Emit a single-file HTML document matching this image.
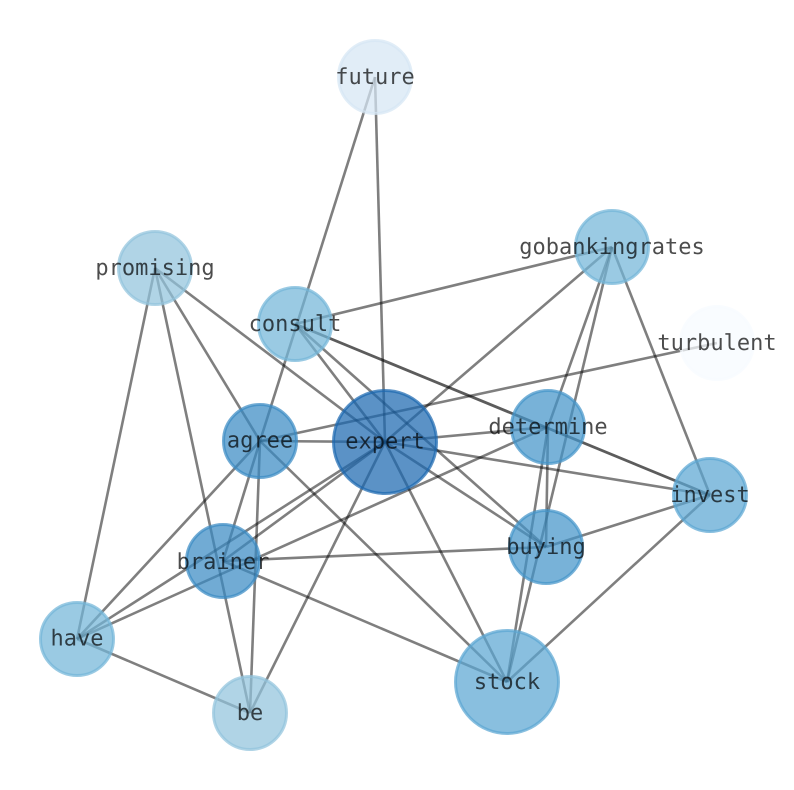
<!DOCTYPE html>
<html>
<head>
<meta charset="utf-8">
<style>
html,body{margin:0;padding:0;background:#fff;width:794px;height:790px;overflow:hidden}
svg{display:block}
text{font-family:"DejaVu Sans Mono","Liberation Mono",monospace;font-size:22px;text-anchor:middle;fill:#000;fill-opacity:.7;text-rendering:geometricPrecision}
line{stroke:#000;stroke-opacity:.5;stroke-width:2.6}
line.d{stroke-opacity:.64;stroke-width:2.8}
circle{stroke-width:3;fill-opacity:.72;stroke-opacity:.72}
</style>
</head>
<body>
<svg width="794" height="790" viewBox="0 0 794 790" xmlns="http://www.w3.org/2000/svg">
<g>
<line x1="375" y1="77" x2="260" y2="441"/>
<line x1="375" y1="77" x2="385" y2="442"/>
<line x1="155" y1="268" x2="77" y2="639"/>
<line x1="155" y1="268" x2="250" y2="713"/>
<line x1="155" y1="268" x2="260" y2="441"/>
<line x1="155" y1="268" x2="385" y2="442"/>
<line x1="612" y1="247" x2="295" y2="324"/>
<line x1="612" y1="247" x2="385" y2="442"/>
<line x1="612" y1="247" x2="548" y2="427"/>
<line x1="612" y1="247" x2="507" y2="682"/>
<line x1="612" y1="247" x2="710" y2="495"/>
<line x1="295" y1="324" x2="385" y2="442"/>
<line x1="295" y1="324" x2="546" y2="547"/>
<line class="d" x1="295" y1="324" x2="710" y2="495"/>
<line x1="717" y1="343" x2="260" y2="441"/>
<line x1="260" y1="441" x2="385" y2="442"/>
<line x1="260" y1="441" x2="223" y2="561"/>
<line x1="260" y1="441" x2="77" y2="639"/>
<line x1="260" y1="441" x2="250" y2="713"/>
<line x1="260" y1="441" x2="507" y2="682"/>
<line x1="385" y1="442" x2="548" y2="427"/>
<line x1="385" y1="442" x2="710" y2="495"/>
<line x1="385" y1="442" x2="546" y2="547"/>
<line x1="385" y1="442" x2="507" y2="682"/>
<line x1="385" y1="442" x2="250" y2="713"/>
<line x1="385" y1="442" x2="223" y2="561"/>
<line x1="385" y1="442" x2="77" y2="639"/>
<line x1="548" y1="427" x2="507" y2="682"/>
<line x1="548" y1="427" x2="77" y2="639"/>
<line x1="548" y1="427" x2="546" y2="547"/>
<line x1="710" y1="495" x2="546" y2="547"/>
<line x1="710" y1="495" x2="507" y2="682"/>
<line x1="223" y1="561" x2="546" y2="547"/>
<line x1="223" y1="561" x2="507" y2="682"/>
<line x1="77" y1="639" x2="250" y2="713"/>
</g>
<g>
<circle cx="375" cy="77" r="36.5" fill="#d6e6f4" stroke="#d6e6f4"/>
<circle cx="155" cy="268" r="36.5" fill="#92c3dd" stroke="#92c3dd"/>
<circle cx="612" cy="247" r="36.5" fill="#73b5d8" stroke="#73b5d8"/>
<circle cx="295" cy="324" r="36.5" fill="#73b5d8" stroke="#73b5d8"/>
<circle cx="717" cy="343" r="36.5" fill="#f7fbff" stroke="#f7fbff"/>
<circle cx="260" cy="441" r="36.5" fill="#3a8ac4" stroke="#3a8ac4"/>
<circle cx="385" cy="442" r="51.5" fill="#1c68b0" stroke="#1c68b0"/>
<circle cx="548" cy="427" r="36.5" fill="#4494c9" stroke="#4494c9"/>
<circle cx="710" cy="495" r="36.5" fill="#5ca6d2" stroke="#5ca6d2"/>
<circle cx="223" cy="561" r="36.5" fill="#3a8ac4" stroke="#3a8ac4"/>
<circle cx="546" cy="547" r="36.5" fill="#4494c9" stroke="#4494c9"/>
<circle cx="77" cy="639" r="36.5" fill="#73b5d8" stroke="#73b5d8"/>
<circle cx="250" cy="713" r="36.5" fill="#92c3dd" stroke="#92c3dd"/>
<circle cx="507" cy="682" r="51.5" fill="#5ca6d2" stroke="#5ca6d2"/>
</g>
<g>
<text x="375" y="84">future</text>
<text x="155" y="275">promising</text>
<text x="612" y="254">gobankingrates</text>
<text x="295" y="331">consult</text>
<text x="717" y="350">turbulent</text>
<text x="260" y="447.5">agree</text>
<text x="385" y="448.5">expert</text>
<text x="548" y="434">determine</text>
<text x="710" y="502">invest</text>
<text x="223" y="569">brainer</text>
<text x="546" y="554">buying</text>
<text x="77" y="645.5">have</text>
<text x="250" y="720">be</text>
<text x="507" y="689">stock</text>
</g>
</svg>
</body>
</html>
